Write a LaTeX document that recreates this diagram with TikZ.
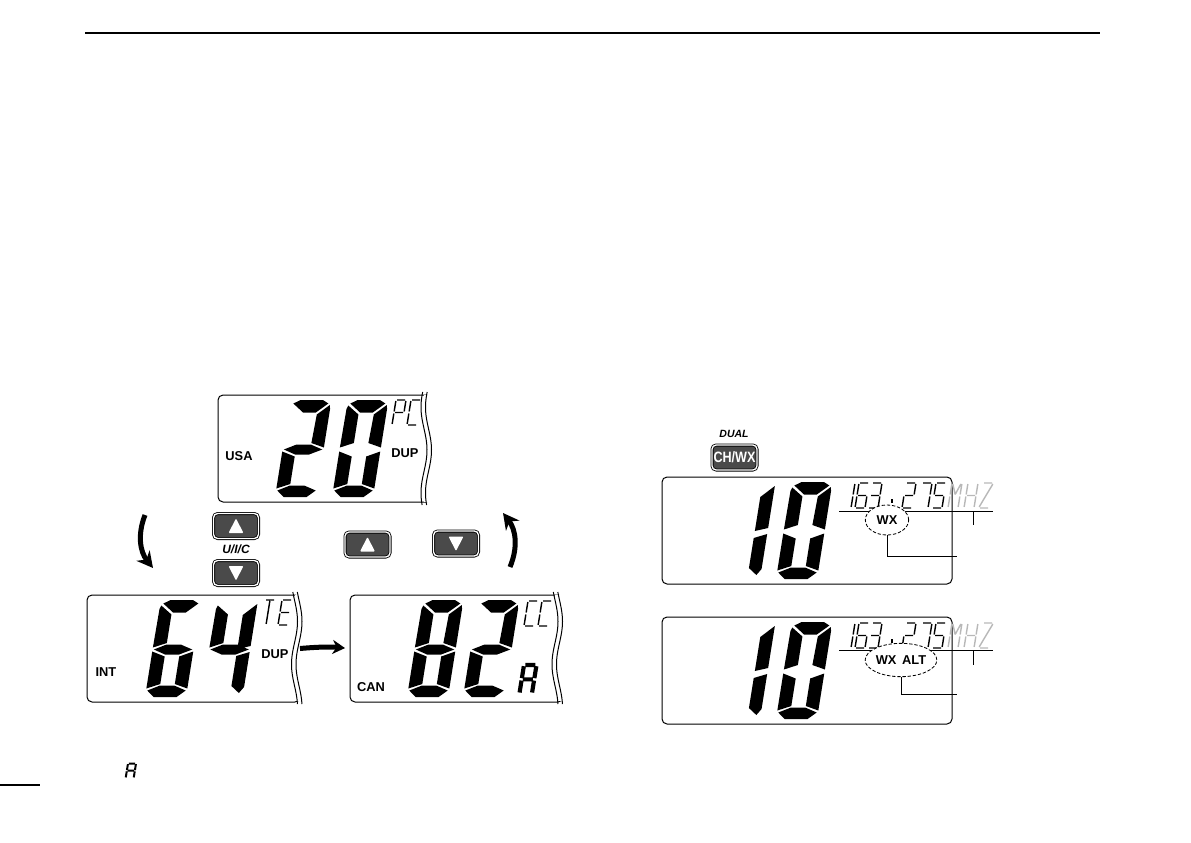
\documentclass[tikz,border=0pt]{standalone}
\usepackage{fontspec}
\setmainfont{Liberation Sans}
\usepackage{tikz}
\usetikzlibrary{arrows.meta,calc,shapes.geometric}
\definecolor{btngray}{HTML}{4A4A4A}
\definecolor{mhzgray}{HTML}{B8B8B8}
% big segments
\newcommand{\sga}{(4,3.5)--(12,0)--(38,0)--(45,3.5)--(32,12.5)--(17,12.5)--cycle }
\newcommand{\sgb}{(47,5)--(48,9)--(48,47.5)--(32.5,43)--(33.5,14.5)--cycle }
\newcommand{\sgc}{(48,51.5)--(48,88.5)--(32.5,84)--(32.5,56.5)--cycle }
\newcommand{\sgd}{(1.5,90.5)--(15.5,85.5)--(32,85.5)--(46.5,90.5)--(37,97)--(10,97)--cycle }
\newcommand{\sge}{(0,51.5)--(15.5,56.5)--(15.5,84)--(0,88.5)--cycle }
\newcommand{\sgf}{(2,5.5)--(15.5,14.5)--(15.5,43)--(0,47.5)--(.5,9)--cycle }
\newcommand{\sgg}{(1.5,49.5)--(15.5,44.5)--(32,44.5)--(46.5,49.5)--(32,54.5)--(15.5,54.5)--cycle }
\newcommand{\sgh}{(48,4)--(48,46)--(33,49)--(33,15)--cycle }
\newcommand{\sgi}{(48,52)--(33,56)--(33,86)--(43,93)--(48,87)--cycle }
% thin segments
\newcommand{\sma}{(1,0)--(9,0) }
\newcommand{\smb}{(10,1)--(10,11) }
\newcommand{\smc}{(10,13)--(10,23) }
\newcommand{\smd}{(1,24)--(9,24) }
\newcommand{\sme}{(0,13)--(0,23) }
\newcommand{\smf}{(0,1)--(0,11) }
\newcommand{\smg}{(1,12)--(9,12) }
\newcommand{\smt}{(5,1)--(5,23) }
\newcommand{\lcdnum}[3]{\begin{scope}[shift={(#1,#2)},xslant=.16,xscale=.854]\fill #3;\end{scope}}
\newcommand{\lcdtiny}[4][black]{\begin{scope}[shift={(#2,#3)},xslant=.16,yscale=1.04]\draw[line width=.85pt,#1] #4;\end{scope}}
\newcommand{\lcdtear}[3]{\fill[white] (#1,#2+3) rectangle (#1+14,#3-3);
  \draw[line width=.6pt] plot[domain=#2:#3,samples=50,smooth] ({#1+3*sin(4.2*\x)},\x);
  \draw[line width=.6pt] plot[domain=#2:#3,samples=50,smooth] ({#1+4.5+3*sin(4.2*\x)},\x);}
\newcommand{\btnup}[1]{\fill[white,rounded corners=.6pt] ($(#1)+(-7.5,7)$)--($(#1)+(7.5,7)$)--($(#1)+(0,-7.5)$)--cycle;}
\newcommand{\btndn}[1]{\fill[white,rounded corners=.6pt] ($(#1)+(-7.5,-7)$)--($(#1)+(7.5,-7)$)--($(#1)+(0,7.5)$)--cycle;}
\begin{document}
\begin{tikzpicture}[x=.6pt,y=-.6pt,
  panel/.style={draw,line width=.6pt,rounded corners=3pt,anchor=north west,outer sep=0pt,minimum width=127.8pt,minimum height=64.2pt},
  wxpanel/.style={panel,minimum width=174pt},
  lab/.style={font=\fontsize{7.7}{9}\selectfont\bfseries,inner sep=0pt},
  keylab/.style={font=\fontsize{6.3}{8}\selectfont\bfseries\itshape,inner sep=0pt},
  btn/.style={draw,fill=btngray,line width=.5pt,double=white,double distance=.8pt,rounded corners=2.5pt,minimum width=27pt,minimum height=15pt,inner sep=0pt},
  oval/.style={draw,ellipse,fill=white,line width=.5pt,dash pattern=on 2pt off 1.1pt,inner sep=0pt,font=\fontsize{7.7}{9}\selectfont\bfseries},
  lead/.style={line width=.6pt},
  bigarr/.style={line width=3pt,-{Stealth[length=9.5pt,width=10pt]}}]
\useasboundingbox (0,0) rectangle (1191,842);
\draw[line width=1.1pt] (85,33)--(1100,33);
\draw[line width=.8pt] (0,785)--(40,785);
\lcdtiny[line width=1.2pt,xscale=.8,yscale=.58]{128}{763.5}{\sma\smb\smc\sme\smf\smg}
% upper display
\node[panel] (usa) at (218,395) {};
\lcdtear{424}{392}{505}
\lcdnum{290.5}{400}{\sga\sgb\sgg\sge\sgd}
\lcdnum{347.5}{400}{\sga\sgb\sgc\sgd\sge\sgf}
\lcdtiny{396}{400}{\sma\smb\smg\smf\sme}
\lcdtiny{411}{400}{\sma\smd\sme\smf}
\node[lab] (usalab) at (239,456) {USA};
\node[lab] (dupa) at (405,453) {DUP};
% lower left display
\node[panel] (int) at (87,595) {};
\lcdtear{294.5}{592}{704}
\lcdnum{160.5}{600}{\sga\sgc\sgd\sge\sgf\sgg}
\lcdnum{217}{600}{\sgf\sgg\sgh\sgi}
\lcdtiny{265}{600}{\sma\smt}
\lcdtiny{282}{600}{\sma\smd\sme\smf\smg}
\node[lab] (intlab) at (106,672) {INT};
\node[lab] (dupb) at (275,654) {DUP};
% lower right display
\node[panel] (can) at (350,595) {};
\lcdtear{555}{592}{704}
\lcdnum{422.5}{600}{\sga\sgb\sgc\sgd\sge\sgf\sgg}
\lcdnum{478.5}{600}{\sga\sgb\sgg\sge\sgd}
\lcdtiny[line width=2.5pt,xscale=1.25,yscale=1.15]{524}{665}{\sma\smb\smc\sme\smf\smg}
\lcdtiny{528}{601}{\sma\smd\sme\smf}
\lcdtiny{542}{601}{\sma\smd\sme\smf}
\node[lab] (canlab) at (371,687) {CAN};
% keys
\node[btn] (upa) at (236,526) {}; \btnup{upa}
\node[keylab,font=\fontsize{7.2}{8}\selectfont\bfseries\itshape] (uic) at (236,549) {U/I/C};
\node[btn] (dna) at (236,573) {}; \btndn{dna}
\node[btn] (upb) at (367.5,544.5) {}; \btnup{upb}
\node[btn] (dnb) at (456,543.5) {}; \btndn{dnb}
\node[btn] (chwx) at (734.5,457.5) {\fontsize{9}{10}\selectfont\bfseries\color{white}\scalebox{.84}[1]{CH/WX}};
\node[keylab] (dual) at (734,434) {DUAL};
% arrows
\coordinate (arra) at (145,515); \coordinate (arrb) at (153,568);
\coordinate (arrc) at (510,567); \coordinate (arrd) at (503,513);
\draw[bigarr] (arra) to[bend right=30] (arrb);
\draw[bigarr] (arrc) to[bend right=30] (arrd);
\draw[bigarr,-{Stealth[length=7.5pt,width=8.5pt]},shorten >=3pt] (int.east) to[bend left=5] (can.west);
% weather displays
\node[wxpanel] (wxa) at (662,477) {};
\lcdnum{734.5}{482}{\sgh\sgi}
\lcdnum{791.5}{482}{\sga\sgb\sgc\sgd\sge\sgf}
\node[wxpanel] (wxb) at (662,617) {};
\lcdnum{734.5}{622}{\sgh\sgi}
\lcdnum{791.5}{622}{\sga\sgb\sgc\sgd\sge\sgf}
\foreach \yy in {483,623} {
  \lcdtiny{845}{\yy}{\smb\smc}
  \lcdtiny{859}{\yy}{\sma\smc\smd\sme\smf\smg}
  \lcdtiny{872}{\yy}{\sma\smb\smc\smd\smg}
  \lcdtiny{906}{\yy}{\sma\smb\smd\sme\smg}
  \lcdtiny{922}{\yy}{\sma\smb\smc}
  \lcdtiny{936}{\yy}{\sma\smc\smd\smf\smg}
  \lcdtiny[mhzgray]{952}{\yy}{\smb\smc\sme\smf (1,1)--(5,11) (9,1)--(5,11) }
  \lcdtiny[mhzgray]{968}{\yy}{\smb\smc\sme\smf\smg}
  \lcdtiny[mhzgray]{983}{\yy}{\sma\smd (10,1)--(0,23) }
  \fill (891,\yy+16) rectangle (893,\yy+20);
}
\coordinate (rulea) at (839,511); \coordinate (ruleb) at (993,511);
\coordinate (ticka) at (973,511); \coordinate (tickb) at (973,525);
\coordinate (notea) at (957,556);
\draw[lead] (rulea)--(ruleb); \draw[lead] (ticka)--(tickb);
\node[oval,minimum width=26pt,minimum height=18pt] (wxoval) at (887,520) {WX};
\draw[lead] (wxoval.south) |- (notea);
\coordinate (rulec) at (839,650); \coordinate (ruled) at (993,650);
\coordinate (tickc) at (973,650); \coordinate (tickd) at (973,665);
\coordinate (noteb) at (957,694);
\draw[lead] (rulec)--(ruled); \draw[lead] (tickc)--(tickd);
\node[oval,minimum width=43pt,minimum height=20pt] (altoval) at (901,660) {WX\hspace{.45em}ALT};
\draw[lead] (altoval.south) |- (noteb);
\end{tikzpicture}
\end{document}
